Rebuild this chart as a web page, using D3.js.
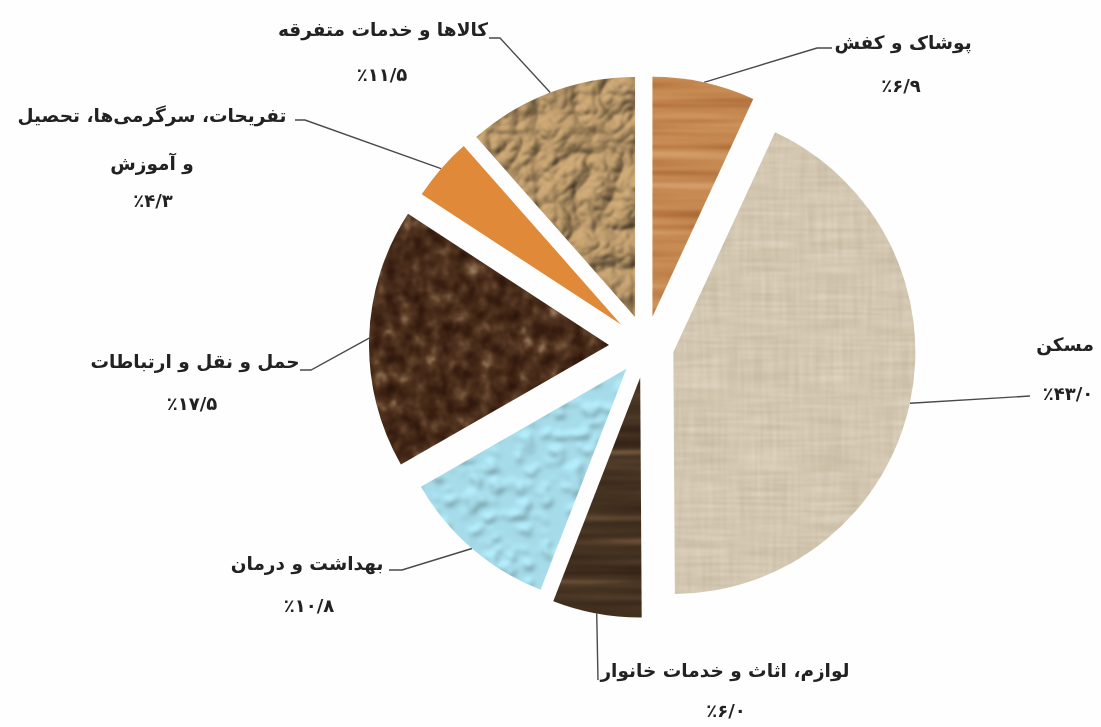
<!DOCTYPE html>
<html lang="fa">
<head>
<meta charset="utf-8">
<script src="https://cdnjs.cloudflare.com/ajax/libs/d3/7.8.5/d3.min.js"></script>
<style>
html, body { margin: 0; padding: 0; background: #fefefe; }
svg { display: block; }
text { font-family: "DejaVu Sans", "Noto Sans", sans-serif; font-weight: bold; fill: #222; text-anchor: middle; }
</style>
</head>
<body>
<svg width="1101" height="727"></svg>
<script>
// shares of household spending, clockwise from 12 o'clock
var categories = [
    ["پوشاک و کفش"],
    ["مسکن"],
    ["لوازم، اثاث و خدمات خانوار"],
    ["بهداشت و درمان"],
    ["حمل و نقل و ارتباطات"],
    ["تفریحات، سرگرمی‌ها، تحصیل", "و آموزش"],
    ["کالاها و خدمات متفرقه"]
];
var values = [6.9, 43.0, 6.0, 10.8, 17.5, 4.3, 11.5];

// layout only, same order as the data
var center = [646, 346];
var explode = [30, 28, 32, 30, 37, 33, 31];
var radius = [240, 242, 240, 237, 240, 238, 240];
var textures = ["wood", "linen", "darkwood", "water", "marble", "orange", "paper"];
var labelPos = [
    {x: 903, y: [49], vx: 901, vy: 92, elbow: [[832, 48], [817, 48]]},
    {x: 1065, y: [351], vx: 1068, vy: 400, elbow: [[1030, 396]]},
    {x: 725, y: [677], vx: 726, vy: 717, elbow: [[598, 680]]},
    {x: 307, y: [570], vx: 309, vy: 612, elbow: [[389, 570], [402, 570]]},
    {x: 195, y: [368], vx: 192, vy: 410, elbow: [[300, 370], [311, 370]]},
    {x: 152, y: [122, 170], vx: 153, vy: 207, elbow: [[295, 120], [305, 120]]},
    {x: 383, y: [36], vx: 382, vy: 81, elbow: [[489, 38], [500, 38]]}
];

function faNumber(v) {
    return "٪" + v.toFixed(1).replace(".", "/").replace(/\d/g, function(c) {
        return "۰۱۲۳۴۵۶۷۸۹"[+c];
    });
}

var svg = d3.select("svg");
var defs = svg.append("defs");

// turn a noise result into a colour ramp
function ramp(f, input, colors, result) {
    var cs = colors.map(function(c) { return d3.rgb(c); });
    f.append("feColorMatrix").attr("in", input).attr("type", "matrix")
        .attr("values", "1 0 0 0 0 1 0 0 0 0 1 0 0 0 0 0 0 0 0 1");
    var t = f.append("feComponentTransfer").attr("result", result);
    ["R", "G", "B"].forEach(function(ch) {
        var k = ch.toLowerCase();
        t.append("feFunc" + ch).attr("type", "table").attr("tableValues", cs.map(function(c) {
            return (c[k] / 255).toFixed(3);
        }).join(" "));
    });
}
function newFilter(id) {
    return defs.append("filter").attr("id", id)
        .attr("filterUnits", "userSpaceOnUse")
        .attr("x", 0).attr("y", 0).attr("width", 1101).attr("height", 727)
        .attr("color-interpolation-filters", "sRGB");
}
function finish(f, input) {
    f.append("feGaussianBlur").attr("in", input).attr("stdDeviation", 0.8).attr("result", "bl");
    f.append("feComposite").attr("in", "bl").attr("in2", "SourceAlpha").attr("operator", "in").attr("result", "clipped");
    f.append("feGaussianBlur").attr("in", "clipped").attr("stdDeviation", 0.5);
}
function noiseTexture(id, freq, octaves, seed, colors) {
    var f = newFilter(id);
    f.append("feTurbulence").attr("type", "fractalNoise").attr("baseFrequency", freq)
        .attr("numOctaves", octaves).attr("seed", seed).attr("result", "n");
    ramp(f, "n", colors, "c");
    finish(f, "c");
}

noiseTexture("wood", "0.003 0.1", 3, 4,
    ["#a06032", "#a06032", "#ad6d3a", "#c0814a", "#ca8f58", "#d29c68", "#d9a97a", "#d9a97a"]);
noiseTexture("darkwood", "0.004 0.09", 3, 8,
    ["#2e1d10", "#2e1d10", "#38261a", "#42301f", "#4a3625", "#5e4630", "#7a5f44", "#7a5f44"]);
noiseTexture("marble", "0.075 0.065", 5, 12,
    ["#2a150b", "#2a150b", "#351c10", "#432716", "#4f321f", "#66462e", "#94775a", "#b59a7c"]);
noiseTexture("orange", "0.5", 1, 2, ["#e08a3a", "#e08a3a", "#e08a3a"]);

// woven cloth: horizontal and vertical threads multiplied together
(function() {
    var f = newFilter("linen");
    f.append("feTurbulence").attr("type", "fractalNoise").attr("baseFrequency", "0.015 0.38")
        .attr("numOctaves", 2).attr("seed", 3).attr("result", "h");
    f.append("feTurbulence").attr("type", "fractalNoise").attr("baseFrequency", "0.38 0.015")
        .attr("numOctaves", 2).attr("seed", 6).attr("result", "v");
    ramp(f, "h", ["#cfc5b0", "#d6ccb9", "#dfd6c5", "#e7dfd0", "#ece5d8"], "hc");
    ramp(f, "v", ["#e4ded2", "#ebe6dc", "#f2eee6", "#f8f5ef", "#fbf9f4"], "vc");
    f.append("feBlend").attr("in", "hc").attr("in2", "vc").attr("mode", "multiply").attr("result", "w");
    finish(f, "w");
})();

// crumpled paper: lit bump map tinted tan
(function() {
    var f = newFilter("paper");
    f.append("feTurbulence").attr("type", "turbulence").attr("baseFrequency", "0.026")
        .attr("numOctaves", 3).attr("seed", 21).attr("result", "n");
    f.append("feDiffuseLighting").attr("in", "n").attr("surfaceScale", 5.5)
        .attr("diffuseConstant", 1.15).attr("lighting-color", "#b89769").attr("result", "l")
        .append("feDistantLight").attr("azimuth", 225).attr("elevation", 58);
    finish(f, "l");
})();

// water drops: blobs from thresholded noise, softly lit from above
(function() {
    var f = newFilter("water");
    f.append("feTurbulence").attr("type", "fractalNoise").attr("baseFrequency", "0.06 0.075")
        .attr("numOctaves", 2).attr("seed", 33).attr("result", "n");
    f.append("feColorMatrix").attr("in", "n").attr("type", "matrix")
        .attr("values", "0 0 0 0 0 0 0 0 0 0 0 0 0 0 0 7 0 0 0 -3.6").attr("result", "a");
    f.append("feGaussianBlur").attr("in", "a").attr("stdDeviation", 2.4).attr("result", "s");
    f.append("feDiffuseLighting").attr("in", "s").attr("surfaceScale", 1.3)
        .attr("diffuseConstant", 1.08).attr("lighting-color", "#a8deec").attr("result", "l")
        .append("feDistantLight").attr("azimuth", 250).attr("elevation", 66);
    finish(f, "l");
})();

var soft = newFilter("soft");
soft.append("feGaussianBlur").attr("stdDeviation", 0.55);

var pie = d3.pie().sort(null).value(function(d) { return d; });
var slices = pie(values);

var g = svg.append("g");
slices.forEach(function(s, i) {
    var r = radius[i];
    var arc = d3.arc().innerRadius(0).outerRadius(r);
    var edge = d3.arc().innerRadius(r).outerRadius(r);
    var mid = (s.startAngle + s.endAngle) / 2;
    var cx = center[0] + explode[i] * Math.sin(mid);
    var cy = center[1] - explode[i] * Math.cos(mid);

    // leader from the middle of the outer edge to the label
    var p = edge.centroid(s);
    var pts = labelPos[i].elbow.concat([[cx + p[0], cy + p[1]]]);
    g.append("path")
        .attr("d", d3.line()(pts))
        .attr("fill", "none")
        .attr("stroke", "#4a4a4a")
        .attr("stroke-width", 1.4)
        .attr("filter", "url(#soft)");

    // filter regions are in user space, so the slice path carries its own offset
    g.append("g")
        .attr("filter", "url(#" + textures[i] + ")")
        .append("path")
        .attr("transform", "translate(" + cx + "," + cy + ")")
        .attr("d", arc(s))
        .attr("fill", "#000");
});

var labels = svg.append("g").attr("filter", "url(#soft)");
categories.forEach(function(lines, i) {
    var l = labelPos[i];
    lines.forEach(function(line, j) {
        labels.append("text").attr("x", l.x).attr("y", l.y[j])
            .attr("direction", "rtl").attr("font-size", 18.5).text(line);
    });
    labels.append("text").attr("x", l.vx).attr("y", l.vy)
        .attr("direction", "ltr").attr("font-size", 18).text(faNumber(values[i]));
});
</script>
</body>
</html>
